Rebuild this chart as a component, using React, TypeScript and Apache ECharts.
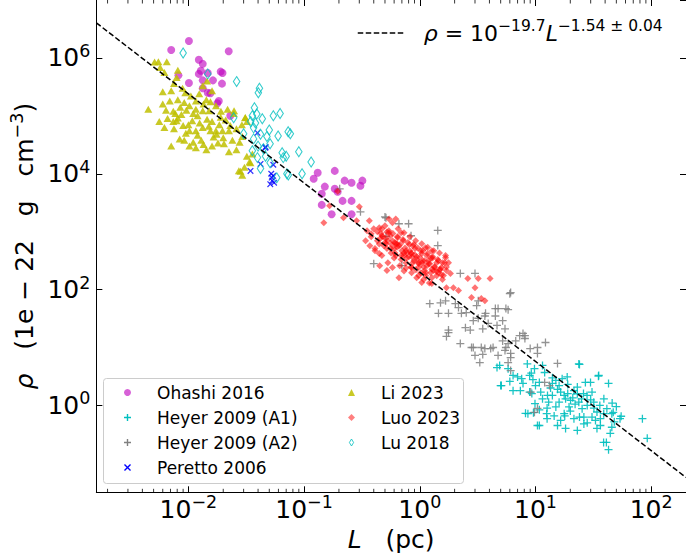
import React, { useEffect, useRef } from 'react';
import * as echarts from 'echarts';

const FONT = 'DejaVu Sans';

// Axis limits (data units)
const L_MIN = 0.0016;
const L_MAX = 200;
const RHO_MIN_EXP = -1.5;
const RHO_MAX_EXP = 7;

// Tick exponents
const xTickExps = [-2, -1, 0, 1, 2];
const yTickExps = [0, 2, 4, 6];
const minorMultipliers = [2, 3, 4, 5, 6, 7, 8, 9];
const minorDecades = [-3, -2, -1, 0, 1, 2];

// Fit: rho = 10^-19.7 L^-1.54 (g cm^-3); axis unit 1e-22 g cm^-3
const FIT_LOG_A = -19.7;
const UNIT_LOG = -22;
const FIT_SLOPE = -1.54;
const fitL = [L_MIN, L_MAX];

// [L (pc), rho (1e-22 g cm^-3)]
const ohashi: number[][] = [
  [0.0101, 1.96e6], [0.0071, 1.37e6], [0.0223, 1.3e6], [0.0123, 9.3e5], [0.0133, 7.9e5],
  [0.0123, 5.3e5], [0.0147, 5.5e5], [0.0197, 5.5e5], [0.019, 5.8e5], [0.0101, 3.7e5],
  [0.0133, 4.1e5], [0.0163, 4.1e5], [0.0195, 3.6e5], [0.0133, 3.0e5], [0.0147, 2.5e5],
  [0.0183, 1.8e5], [0.0178, 1.65e5], [0.023, 1.0e5], [0.0082, 5.0e5], [0.0155, 2.45e5],
  [0.0128, 6.0e5],
  [0.131, 1.04e4], [0.184, 1.12e4], [0.121, 8.2e3], [0.224, 7.6e3], [0.257, 7.0e3],
  [0.319, 7.6e3], [0.307, 6.2e3], [0.151, 6.0e3], [0.184, 5.5e3], [0.195, 4.9e3],
  [0.142, 4.5e3], [0.215, 3.4e3], [0.257, 3.4e3], [0.142, 2.9e3], [0.173, 2.0e3],
  [0.257, 2.0e3],
];

const heyerA1: number[][] = [
  [5.07, 2.2], [4.9, 4.9], [5.8, 4.3], [6.4, 1.8], [7.4, 1.8], [7.0, 3.1], [7.6, 2.9],
  [8.9, 3.3], [9.2, 3.6], [9.5, 2.8], [8.5, 5.2], [9.8, 4.3], [11.5, 4.9], [10.8, 2.5],
  [8.9, 1.7], [9.3, 1.6], [9.9, 1.07], [8.6, 0.72], [9.6, 0.75], [10.8, 0.45], [12.5, 0.72],
  [12.6, 0.59], [14, 2.4], [15, 2.7], [16, 2.2], [16.5, 1.7], [17.7, 1.49], [16, 1.14],
  [15, 0.94], [18.2, 1.3], [20.1, 1.22], [19.5, 0.94], [17.7, 0.72], [17.9, 0.66],
  [15.5, 0.45], [18.2, 0.4], [23, 0.37], [23.7, 5.2], [18.8, 3.1], [21.5, 1.8], [23, 1.59],
  [23.7, 1.14], [25.3, 0.88], [26.2, 0.63], [21.5, 0.59], [27.9, 1.49], [27, 2.5],
  [29.9, 2.5], [35.2, 3.3], [42.8, 2.4], [30.8, 1.7], [31.9, 1.14], [34, 0.77], [30.8, 0.63],
  [33, 0.55], [36.4, 0.45], [34, 0.4], [38.9, 0.72], [41.4, 0.88], [45.7, 0.72], [47, 0.76],
  [53.8, 0.59], [55, 0.65], [45.7, 0.42], [44.3, 0.33], [38.8, 0.23], [42.8, 0.172],
  [36.4, 0.59], [84, 0.59], [92.5, 0.27], [10.8, 0.84], [12.6, 0.9], [23, 2.07], [11.1, 1.7],
  [12.7, 1.49], [14, 1.49], [13, 1.14], [26.2, 0.48], [28, 0.5], [24, 0.63], [4.65, 4.5],
  [5.0, 2.2], [6.4, 3.3], [8.2, 0.73], [10.4, 0.45], [41, 0.23], [24, 5.1], [35, 3.2],
  [13.5, 2.0], [15.5, 1.9], [19, 1.6], [21, 1.35], [22, 1.05], [25, 1.3], [28, 1.0], [32, 0.9],
  [30, 1.25], [26, 1.6], [19, 2.3], [17, 2.9], [12, 3.7], [14, 3.0], [20, 0.8], [16.5, 0.55],
  [14.5, 0.66], [11.5, 1.3], [10, 2.2], [7.8, 2.4], [6.0, 2.6], [36, 1.0], [39, 1.3],
  [46, 1.1], [50, 0.95], [48, 0.52],
];

const heyerA2: number[][] = [
  [0.203, 5500], [0.307, 2200], [0.51, 1740], [0.5, 1800], [0.66, 1370], [0.8, 1370],
  [0.84, 850], [0.51, 830], [0.4, 280], [0.7, 260], [1.43, 1050], [1.43, 575], [2.24, 190],
  [3.0, 190], [3.2, 64], [6.1, 89], [5.55, 47], [4.5, 47], [1.22, 57], [1.51, 59], [1.67, 64],
  [1.45, 39], [1.77, 39], [2.03, 57], [2.16, 49], [2.29, 39], [2.52, 40], [2.48, 22],
  [2.73, 20], [2.9, 29], [3.2, 32], [3.65, 35], [3.9, 26], [3.5, 21], [4.5, 35], [4.65, 24],
  [5.2, 29], [5.45, 21], [1.77, 20], [1.7, 15.5], [2.24, 11.7], [2.9, 10], [3.4, 10],
  [3.5, 7.6], [3.0, 7.3], [4.3, 10], [4.75, 7.3], [5.55, 10], [6.1, 7.9], [6.75, 13],
  [8.1, 16], [5.2, 13], [3.1, 53], [3.7, 39], [4.75, 47], [5.8, 45], [6.0, 85], [1.77, 18],
  [2.8, 10], [3.3, 5.5], [3.65, 9.6], [4.1, 9.6], [5.45, 8.9], [6.1, 6.7], [5.8, 11.7],
  [7.8, 17.5], [8.1, 14.3], [9.0, 9.6], [10.4, 10], [12.2, 12.2], [15.5, 5.3], [9.1, 1.7],
  [7.3, 16], [10.4, 7.9], [13.2, 2.2], [12, 2.5], [10.4, 0.89], [9.8, 0.76], [6.1, 4],
  [5.8, 5.5],
];

const peretto: number[][] = [
  [0.0395, 5.1e4], [0.0462, 2.8e4], [0.0465, 2.9e4], [0.042, 1.48e4], [0.0344, 1.12e4],
  [0.0542, 1.43e4], [0.052, 1.0e4], [0.054, 9.2e3], [0.053, 7.6e3], [0.051, 6.6e3],
  [0.055, 7.0e3], [0.0525, 8.6e3],
];

const li: number[][] = [
  [0.0055, 8.6e5], [0.0065, 8.6e5], [0.0051, 8.5e5], [0.0062, 5.6e5], [0.0081, 6.1e5],
  [0.0079, 4.6e5], [0.006, 2.6e5], [0.0071, 2.7e5], [0.0045, 1.3e5], [0.0069, 1.8e5],
  [0.0081, 1.9e5], [0.0064, 1.25e5], [0.0077, 1.1e5], [0.0092, 1.7e5], [0.0096, 1.25e5],
  [0.0056, 8.0e4], [0.0062, 6.3e4], [0.0079, 8.2e4], [0.009, 6.8e4], [0.0084, 4.0e4],
  [0.0071, 3.0e4], [0.0092, 3.8e4], [0.0102, 3.0e4], [0.0116, 2.8e4], [0.0143, 2.6e4],
  [0.018, 3.4e4], [0.0224, 2.4e4], [0.0116, 5.5e4], [0.0133, 6.3e4], [0.0155, 5.5e4],
  [0.0165, 4.3e4], [0.0108, 8.2e4], [0.012, 1.0e5], [0.0133, 1.22e5], [0.0145, 8.7e4],
  [0.016, 8.0e4], [0.0185, 7.0e4], [0.0197, 5.5e4], [0.0224, 5.5e4], [0.024, 3.8e4],
  [0.0277, 3.5e4], [0.0292, 4.4e4], [0.0203, 3.3e4], [0.0248, 1.22e5], [0.0218, 1.3e5],
  [0.031, 9.4e4], [0.0321, 8.0e4], [0.0337, 1.6e4], [0.0273, 1.13e4], [0.0292, 9.4e3],
  [0.0143, 1.9e5], [0.0116, 1.8e5], [0.0105, 2.2e5], [0.0094, 2.5e5], [0.0124, 2.4e5],
  [0.0155, 1.75e5], [0.0173, 1.5e5], [0.0191, 1.2e5], [0.0087, 1.05e5], [0.0081, 9.2e4],
  [0.0074, 8.0e4], [0.0116, 1.3e5], [0.0102, 1.5e5], [0.0151, 1.22e5], [0.016, 2.7e5],
  [0.0133, 3.3e5], [0.0145, 4.0e5], [0.0102, 5.5e4], [0.0129, 3.8e4], [0.0173, 5.5e4],
  [0.0074, 1.2e5], [0.0282, 1.1e4], [0.0344, 1.55e4], [0.0357, 2.2e4], [0.031, 9.3e4],
  [0.0247, 1.1e5], [0.029, 7.0e4], [0.026, 6.0e4], [0.021, 8.5e4], [0.019, 9.5e4],
  [0.0135, 1.6e5], [0.011, 1.1e5], [0.0085, 1.4e5], [0.006, 1.6e5], [0.0066, 9.0e4],
  [0.01, 7.0e4], [0.0125, 7.5e4], [0.015, 6.6e4], [0.0175, 4.8e4], [0.02, 4.2e4],
  [0.023, 6.8e4], [0.026, 2.6e4], [0.032, 2.0e4], [0.0305, 1.3e4], [0.012, 4.6e4],
  [0.0095, 5.0e4], [0.0075, 6.0e4], [0.011, 3.5e4], [0.0135, 3.2e4], [0.016, 3.0e4],
  [0.0057, 6.8e5], [0.0075, 3.6e5], [0.0089, 3.0e5],
];

const luo: number[][] = [
  [0.3, 2700], [0.166, 2800], [0.148, 1430], [0.219, 1740], [0.284, 1550], [0.366, 1550],
  [0.543, 1660], [0.62, 1660], [0.446, 1170], [0.38, 925], [0.543, 960], [0.41, 510],
  [0.446, 420], [0.66, 160], [0.69, 960], [0.47, 850], [0.51, 620], [0.62, 620], [0.89, 600],
  [1.12, 530], [1.27, 470], [1.04, 420], [0.85, 420], [0.73, 430], [0.58, 240], [0.73, 210],
  [0.85, 240], [0.98, 280], [1.19, 315], [1.4, 290], [1.54, 240], [1.67, 355], [1.77, 290],
  [1.6, 175], [1.84, 190], [1.45, 195], [1.27, 160], [1.12, 195], [0.98, 175], [1.04, 132],
  [1.27, 127], [1.7, 108], [1.95, 108], [2.16, 96], [2.6, 155], [3.2, 155], [4.05, 155],
  [3.0, 108], [2.8, 73], [3.4, 70], [3.65, 64], [0.195, 5000],
  [0.35, 1040], [0.38, 820], [0.4, 1120], [0.43, 700], [0.46, 940], [0.49, 574], [0.51, 760],
  [0.54, 1040], [0.56, 510], [0.58, 700], [0.61, 430], [0.64, 820], [0.66, 574], [0.69, 386],
  [0.72, 700], [0.76, 470], [0.77, 350], [0.81, 600], [0.84, 430], [0.87, 290], [0.91, 510],
  [0.94, 370], [0.98, 245], [1.02, 470], [1.06, 316], [1.1, 213], [1.15, 386], [1.19, 280],
  [1.24, 195], [1.29, 350], [1.34, 245], [1.4, 174], [1.45, 316], [1.51, 225], [1.57, 150],
  [1.64, 290], [1.7, 213], [0.41, 470], [0.47, 386], [0.53, 290], [0.6, 350], [0.67, 259],
  [0.76, 235], [0.85, 195], [0.94, 160], [1.08, 150], [1.21, 130], [0.5, 1270], [0.58, 1420],
  [0.65, 1120], [0.73, 960], [0.82, 820], [0.92, 700], [1.04, 620], [1.17, 540], [1.32, 470],
  [1.48, 430], [1.67, 386], [0.45, 259], [0.52, 213], [0.37, 574], [0.34, 700],
  [0.43, 1000], [0.455, 760], [0.48, 820], [0.5, 650], [0.53, 700], [0.555, 853], [0.57, 600],
  [0.61, 650], [0.635, 540], [0.675, 600], [0.7, 470], [0.745, 520], [0.775, 430], [0.82, 470],
  [0.855, 370], [0.905, 400], [0.94, 330], [1.0, 360], [1.04, 290], [1.1, 316], [1.15, 259],
  [1.22, 280], [1.27, 225], [1.34, 245], [1.4, 205], [1.48, 220], [1.54, 180], [0.52, 510],
  [0.565, 430], [0.62, 386], [0.69, 330], [0.76, 290], [0.84, 245], [0.925, 220], [1.02, 195],
  [1.125, 174], [0.47, 1120], [0.52, 990], [0.585, 930], [0.645, 790], [0.715, 730],
  [0.79, 650], [0.87, 574], [0.96, 520], [1.06, 470], [1.17, 420], [1.29, 370], [1.43, 330],
  [1.57, 290], [1.7, 245], [0.635, 620], [0.73, 386], [0.89, 316], [1.08, 245], [1.25, 350],
  [0.6, 510], [0.805, 370], [0.98, 290], [1.32, 213], [0.446, 610],
];

const lu: number[][] = [
  [0.009, 1.22e6], [0.0147, 5.3e5], [0.0261, 3.9e5], [0.0411, 3.0e5], [0.0402, 2.5e5],
  [0.0246, 9.3e4], [0.0372, 1.38e5], [0.0357, 1.0e5], [0.039, 1.08e5], [0.0435, 8.9e4],
  [0.0366, 6.2e4], [0.0542, 1.0e5], [0.062, 1.1e5], [0.03, 4.9e4], [0.05, 5.7e4],
  [0.0477, 4.4e4], [0.0596, 4.5e4], [0.0728, 5.3e4], [0.076, 4.9e4], [0.0366, 4.0e4],
  [0.04, 3.0e4], [0.0445, 2.7e4], [0.0508, 3.3e4], [0.0646, 2.3e4], [0.066, 1.9e4],
  [0.07, 2.0e4], [0.09, 2.4e4], [0.0395, 1.9e4], [0.0464, 2.0e4], [0.0508, 1.55e4],
  [0.058, 8.5e3], [0.071, 1.0e4], [0.073, 9.5e3], [0.096, 1.0e4], [0.115, 1.6e4],
  [0.042, 1.23e4], [0.0357, 2.5e4], [0.038, 7.5e4], [0.0345, 8.0e4], [0.042, 4.8e4],
];

const lg = Math.log10;
const toLog = (pts: number[][]) => pts.map(([l, r]) => [lg(l), lg(r)]);

const PLUS =
  'path://M-0.16,-1L0.16,-1L0.16,-0.16L1,-0.16L1,0.16L0.16,0.16L0.16,1L-0.16,1L-0.16,0.16L-1,0.16L-1,-0.16L-0.16,-0.16Z';
const PLUS_LEGEND =
  'path://M-0.2,-1L0.2,-1L0.2,-0.2L1,-0.2L1,0.2L0.2,0.2L0.2,1L-0.2,1L-0.2,0.2L-1,0.2L-1,-0.2L-0.2,-0.2Z';
const CROSS =
  'path://M0.594,-0.82L0.82,-0.594L0.226,0L0.82,0.594L0.594,0.82L0,0.226L-0.594,0.82L-0.82,0.594L-0.226,0L-0.82,-0.594L-0.594,-0.82L0,-0.226Z';
const THIN_DIAMOND = 'path://M0,-1L0.6,0L0,1L-0.6,0Z';

const COLORS = {
  ohashi: '#bf00bf',
  a1: '#00bfbf',
  a2: '#808080',
  peretto: '#0000ff',
  li: '#bfbf00',
  luo: '#ff0000',
  lu: '#00bfbf',
};

const MINUS = '\u2212';
const NB = '\u00a0';

const expLabel = (allowed: number[]) => (v: number) => {
  const e = Math.round(v);
  if (Math.abs(v - e) > 1e-6 || allowed.indexOf(e) < 0) return '';
  return `{b|10}{s|${e < 0 ? MINUS : ''}${Math.abs(e)}}`;
};

const tickRich = {
  b: { fontFamily: FONT, fontSize: 25, color: '#000' },
  s: { fontFamily: FONT, fontSize: 17.5, color: '#000', padding: [0, 0, 14, 0] },
};

export default function App() {
  const ref = useRef<HTMLDivElement>(null);

  useEffect(() => {
    if (!ref.current) return;
    const chart = echarts.init(ref.current, undefined, { renderer: 'svg' });

    const xMin = lg(L_MIN);
    const xMax = lg(L_MAX);
    const yMin = RHO_MIN_EXP;
    const yMax = RHO_MAX_EXP;

    const minorTicks: number[][] = [];
    minorDecades.forEach((d) =>
      minorMultipliers.forEach((k) => {
        const v = lg(k) + d;
        if (v > xMin && v < xMax) minorTicks.push([v, 0]);
      })
    );

    const axisLineStyle = { color: '#000', width: 1 };
    const tickStyle = { color: '#000', width: 1 };

    const eqText = `{i|ρ}{t|${NB}=${NB}10}{s|${MINUS}19.7}{i|L}{s|${MINUS}1.54${NB}±${NB}0.04}`;

    const legendText = {
      fontFamily: FONT,
      fontSize: 17,
      color: '#000',
      lineHeight: 20,
      padding: [0, 0, 0, 21],
    };

    const option: any = {
      animation: false,
      backgroundColor: '#fff',
      textStyle: { fontFamily: FONT },
      grid: { left: 95, top: -1, right: -5, bottom: 64.7, containLabel: false },
      xAxis: [
        {
          type: 'value',
          min: xMin,
          max: xMax,
          position: 'bottom',
          axisLine: { show: true, onZero: false, lineStyle: axisLineStyle },
          axisTick: { show: true, inside: true, length: 6, lineStyle: tickStyle },
          axisLabel: {
            formatter: expLabel(xTickExps),
            margin: 1,
            rich: tickRich,
            showMinLabel: false,
            showMaxLabel: false,
          },
          splitLine: { show: false },
          name: `{i|L}{n|${NB}${NB}${NB}(pc)}`,
          nameLocation: 'middle',
          nameGap: 32,
          nameTextStyle: {
            rich: {
              i: { fontFamily: FONT, fontSize: 25, fontStyle: 'italic', color: '#000' },
              n: { fontFamily: FONT, fontSize: 25, color: '#000' },
            },
          },
        },
        {
          type: 'value',
          min: xMin,
          max: xMax,
          position: 'top',
          axisLine: { show: false, onZero: false },
          axisTick: { show: true, inside: true, length: 6, lineStyle: tickStyle },
          axisLabel: { show: false },
          splitLine: { show: false },
        },
      ],
      yAxis: [
        {
          type: 'value',
          min: yMin,
          max: yMax,
          position: 'left',
          axisLine: { show: true, onZero: false, lineStyle: axisLineStyle },
          axisTick: { show: true, inside: true, length: 6, lineStyle: tickStyle },
          axisLabel: {
            formatter: expLabel(yTickExps),
            margin: 6,
            rich: tickRich,
            showMinLabel: false,
            showMaxLabel: false,
          },
          splitLine: { show: false },
          name: `{i|ρ}{n|${NB}${NB}${NB}(1e${NB}${MINUS}${NB}22${NB}${NB}${NB}g${NB}${NB}${NB}cm}{s|${MINUS}3}{n|)}`,
          nameLocation: 'middle',
          nameRotate: 90,
          nameGap: 55,
          nameTextStyle: {
            rich: {
              i: { fontFamily: FONT, fontSize: 25, fontStyle: 'italic', color: '#000' },
              n: { fontFamily: FONT, fontSize: 25, color: '#000' },
              s: { fontFamily: FONT, fontSize: 17.5, color: '#000', padding: [0, 0, 14, 0] },
            },
          },
        },
        {
          type: 'value',
          min: yMin,
          max: yMax,
          position: 'right',
          axisLine: { show: false, onZero: false },
          axisTick: { show: true, inside: true, length: 6, lineStyle: tickStyle },
          axisLabel: { show: false },
          splitLine: { show: false },
        },
      ],
      legend: [
        {
          data: [
            { name: 'Ohashi 2016', icon: 'circle', itemStyle: { color: COLORS.ohashi, opacity: 0.62 } },
            { name: 'Heyer 2009 (A1)', icon: PLUS_LEGEND, itemStyle: { color: COLORS.a1, opacity: 1 } },
            { name: 'Heyer 2009 (A2)', icon: PLUS_LEGEND, itemStyle: { color: COLORS.a2, opacity: 1 } },
            { name: 'Peretto 2006', icon: CROSS, itemStyle: { color: COLORS.peretto, opacity: 1 } },
          ],
          orient: 'vertical',
          left: 124,
          top: 382.5,
          padding: 0,
          itemWidth: 7,
          itemHeight: 7,
          itemGap: 5,
          selectedMode: false,
          z: 6,
          textStyle: legendText,
        },
        {
          data: [
            { name: 'Li 2023', icon: 'triangle', itemStyle: { color: COLORS.li, opacity: 0.85 } },
            { name: 'Luo 2023', icon: 'diamond', itemStyle: { color: COLORS.luo, opacity: 0.5 } },
            {
              name: 'Lu 2018',
              icon: THIN_DIAMOND,
              itemStyle: { color: 'rgba(0,0,0,0)', borderColor: COLORS.lu, borderWidth: 1 },
            },
          ],
          orient: 'vertical',
          left: 348,
          top: 382.5,
          padding: 0,
          itemWidth: 7,
          itemHeight: 7,
          itemGap: 5,
          selectedMode: false,
          z: 6,
          textStyle: legendText,
        },
        {
          data: [{ name: 'fit', itemStyle: { opacity: 0 } }],
          orient: 'vertical',
          left: 357,
          top: 18,
          padding: 0,
          itemWidth: 46,
          itemHeight: 14,
          selectedMode: false,
          lineStyle: { width: 1.5 },
          formatter: () => eqText,
          textStyle: {
            fontFamily: FONT,
            color: '#000',
            padding: [0, 0, 0, 15],
            rich: {
              i: { fontFamily: FONT, fontSize: 22, fontStyle: 'italic', color: '#000' },
              t: { fontFamily: FONT, fontSize: 22, color: '#000' },
              s: { fontFamily: FONT, fontSize: 15.5, color: '#000', padding: [0, 0, 14, 0] },
            },
          },
        },
      ],
      graphic: [
        {
          type: 'rect',
          z: 5,
          silent: true,
          shape: { x: 103.5, y: 378.5, width: 360, height: 105, r: 3 },
          style: { fill: 'rgba(255,255,255,0.8)', stroke: '#cccccc', lineWidth: 1 },
        },
      ],
      series: [
        {
          type: 'scatter',
          name: 'Ohashi 2016',
          data: toLog(ohashi),
          symbol: 'circle',
          symbolSize: 8,
          itemStyle: { color: COLORS.ohashi, opacity: 0.62 },
          silent: true,
        },
        {
          type: 'scatter',
          name: 'Heyer 2009 (A1)',
          data: toLog(heyerA1),
          symbol: PLUS,
          symbolSize: 8,
          itemStyle: { color: COLORS.a1, opacity: 0.9 },
          silent: true,
        },
        {
          type: 'scatter',
          name: 'Heyer 2009 (A2)',
          data: toLog(heyerA2),
          symbol: PLUS,
          symbolSize: 8,
          itemStyle: { color: COLORS.a2, opacity: 0.85 },
          silent: true,
        },
        {
          type: 'scatter',
          name: 'Peretto 2006',
          data: toLog(peretto),
          symbol: CROSS,
          symbolSize: 6.5,
          itemStyle: { color: COLORS.peretto },
          silent: true,
        },
        {
          type: 'scatter',
          name: 'Li 2023',
          data: toLog(li),
          symbol: 'triangle',
          symbolSize: [8, 7],
          itemStyle: { color: COLORS.li, opacity: 0.85 },
          silent: true,
        },
        {
          type: 'scatter',
          name: 'Luo 2023',
          data: toLog(luo),
          symbol: 'diamond',
          symbolSize: 7,
          itemStyle: { color: COLORS.luo, opacity: 0.55 },
          silent: true,
        },
        {
          type: 'scatter',
          name: 'Lu 2018',
          data: toLog(lu),
          symbol: THIN_DIAMOND,
          symbolSize: [6.5, 10],
          itemStyle: { color: 'rgba(0,0,0,0)', borderColor: COLORS.lu, borderWidth: 1.1 },
          silent: true,
        },
        {
          type: 'line',
          name: 'fit',
          data: fitL.map((l) => [lg(l), FIT_LOG_A - UNIT_LOG + FIT_SLOPE * lg(l)]),
          symbol: 'none',
          showSymbol: false,
          lineStyle: { color: '#000', width: 1.5, type: [5.5, 2.5] },
          itemStyle: { color: '#000' },
          z: 4,
          silent: true,
        },
        {
          type: 'custom',
          name: 'minor ticks',
          coordinateSystem: 'cartesian2d',
          data: minorTicks,
          silent: true,
          clip: false,
          z: 4,
          renderItem: (params: any, api: any) => {
            const x = api.value(0);
            const b = api.coord([x, yMin]);
            const t = api.coord([x, yMax]);
            return {
              type: 'group',
              children: [
                {
                  type: 'line',
                  shape: { x1: b[0], y1: b[1], x2: b[0], y2: b[1] - 3.5 },
                  style: { stroke: '#000', lineWidth: 0.8 },
                },
                {
                  type: 'line',
                  shape: { x1: t[0], y1: t[1], x2: t[0], y2: t[1] + 3.5 },
                  style: { stroke: '#000', lineWidth: 0.8 },
                },
              ],
            };
          },
        },
      ],
    };

    chart.setOption(option);
    return () => chart.dispose();
  }, []);

  return (
    <div
      ref={ref}
      style={{ position: 'absolute', left: 0, top: 0, width: 686, height: 557, background: '#fff' }}
    />
  );
}
